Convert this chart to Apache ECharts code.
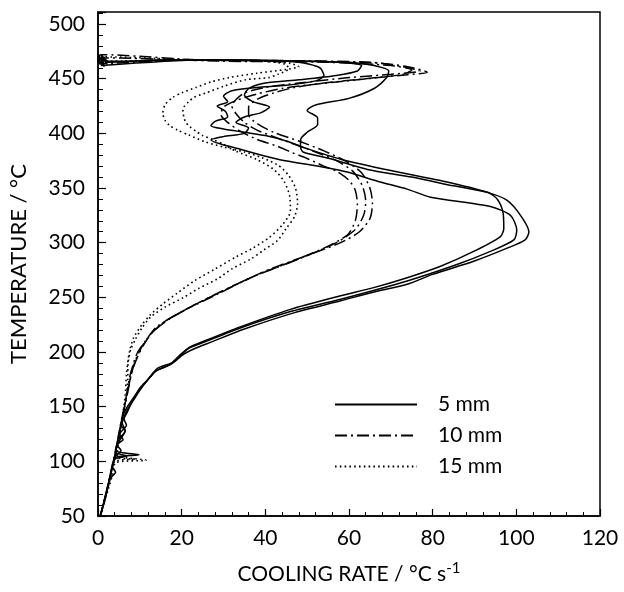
<!DOCTYPE html>
<html>
<head>
<meta charset="utf-8">
<script src="https://cdn.jsdelivr.net/npm/echarts@6/dist/echarts.min.js"></script>
<style>
html,body{margin:0;padding:0;background:#fff;}
#chart{width:624px;height:592px;}
</style>
</head>
<body>
<div id="chart"></div>
<script>
// [cooling rate (°C/s), temperature (°C)]
var legendNames = ['5 mm', '10 mm', '15 mm'];

var solidA = [[0,473],[1.5,461],[0.8,472],[2.2,463],[1,470],[2.5,466],[20,467],[45,466.5],[60,465],[66,462],[69.5,457],[69,451],[66,441],[60,432],[52,426],[50,421],[52.5,414],[52.5,408],[50,401],[48.5,395],[48.4,388],[49,383],[56,376.4],[64.4,367],[75,360],[85,352],[93,346],[97.8,338.7],[101,325],[103,310],[102.1,302.5],[97.8,295],[89.8,283],[80,271],[73.9,262],[65,254],[58,246.8],[47,236],[35,221],[27,209],[23,203],[20.5,198],[17.5,189],[14,183],[12,175],[10,165],[8.5,156],[7,147],[6.2,139],[6.8,133],[5.2,125],[6,120],[4.5,115],[5.5,110],[4,104],[3.5,95],[4.2,90],[2.8,84],[2,72],[1.3,61],[0.7,52]];

var solidB = [[0,471],[0.5,463],[1.2,469],[2,465],[15,467],[35,467],[48,465],[53,460],[54,453],[52,448],[45,444],[38,442],[32,439],[30,434],[31,429],[28.5,425],[30.5,420],[31,415],[28,411],[27,407],[30,404],[35,401],[40,398],[45,393],[50,386],[58,376.4],[70,366],[81.9,356.8],[93,346.3],[95.4,340],[96.8,328],[97,313],[96.2,305.6],[89.8,292],[81.9,278.5],[73.9,268],[65.9,258.9],[58,251.4],[46,239],[34,223],[26,211],[22,204.6],[20.6,200],[18.2,191],[14.2,185],[12.6,177.5],[10.3,168.4],[8.7,159.4],[7.1,150.4],[6,142],[5.5,133],[6.5,128],[5,120],[4.2,110],[9.8,106],[4.5,104],[3.6,98],[3,88],[2.3,76],[1.6,65],[1,56],[0.6,50]];

var solidC = [[0,467],[1.5,470],[0.8,462],[25,467],[45,466],[58,465],[63,462],[62,457],[57,453],[48,449],[40,446],[36,441],[35,435],[37,429],[41,424],[39,419],[35,415],[33,410],[36,405],[35,400],[30,397],[27,394],[34,385.5],[43,376.4],[54,369],[59.6,364.6],[67,356],[73.9,349],[79.5,341.6],[93.8,333],[98.6,325],[100.1,311.6],[99.4,302.5],[93.8,292],[85.8,280],[73.9,265],[58,248.3],[46,237],[34,222],[26,210],[21.5,203],[19.5,197],[17,188],[13.5,182],[11.8,174],[9.8,165],[8.2,155],[7,145],[5.8,135],[6.5,128],[5,118],[4.2,108],[7,105],[4,102],[3.3,92],[2.6,80],[1.8,68],[1,57],[0.5,50]];

var dashA = [[0,469],[1,464],[20,467],[45,466.5],[65,465],[74,461],[78.7,456],[72,453],[62,449],[52,445],[44,441],[38,436],[33,430],[30,424],[29.4,417],[31,410],[34,402],[38,394.5],[43,388],[46,383],[50,377],[54,370],[57.2,365],[60,357],[61.5,348],[62,335],[61.5,320],[59.6,307],[54,295],[44.5,280],[36.5,268],[28.6,253],[20.6,238],[14,223],[11.5,211],[9.5,200],[8.5,190],[7.5,176],[6.8,160],[6,145],[5.2,130],[4.5,115],[3.8,100],[3,87],[2.2,74],[1.5,63],[0.8,53]];

var dashB = [[0,468],[0.7,472],[25,467],[50,466],[68,464],[74,460],[77,457],[70,454],[60,451],[48,446],[40,442],[35,437],[33,431],[32,425],[33,418],[35,410],[38,403],[42,397],[47,390],[52,383],[57,375],[61,365],[63.2,352],[64,338],[63.5,325],[61.5,312],[57,300],[48,285],[39,272],[31,258],[23,243],[16,228],[12.5,216],[10.5,205],[9,193],[8,180],[7.2,165],[6.4,150],[5.6,135],[4.8,120],[4,105],[3.2,92],[2.4,78],[1.6,66],[0.9,55]];

var dashC = [[0,466],[1.5,469],[30,466],[55,465],[70,462],[75,458],[73,454],[64,450],[54,446],[47,442],[42,437],[38,431],[36,424],[36,417],[38,409],[42,401],[48,393],[54,384],[59,375],[63,364],[65,350],[65.6,336],[65,322],[62.5,310],[58,300],[49,287],[40,274],[32,260],[24,245],[17,230],[13,218],[11,207],[9.5,196],[8.2,183],[7.4,170],[6.6,155],[5.8,140],[5,125],[4.3,112],[3.6,100],[2.8,86],[2,72],[1.2,60],[0.6,51]];

var dotA = [[0,469],[1,466],[20,467],[38,466.5],[46,464],[48,461],[45,458.5],[38,455],[31.3,451],[27,447],[23.4,442],[20,437],[17.9,433],[16,426],[15.5,418.5],[16,412],[17,407.6],[19,403],[21.7,398.5],[25.8,392],[30,387.5],[35,383],[39,378],[43,371],[45.5,362],[47.2,350],[47.7,336],[47,324],[45,313],[42.9,302],[39.5,293],[36.5,285],[32,276],[28.6,267],[24,258],[20.5,250],[16,241],[12.6,232],[10.5,222],[9,212],[7.8,202],[7.2,190],[7.1,175],[6.8,162],[6.3,150],[5.5,132],[5,118],[4.5,106],[11.5,101],[4.3,99],[3.5,88],[2.6,76],[1.7,65],[0.9,55],[0.4,50]];

var dotB = [[0,467],[0.5,470],[25,467],[40,466],[45,463],[45.5,459],[43,454],[40.8,451],[35.3,449],[30,443],[25.8,437],[23,433],[21.7,429],[20.5,424],[20.3,420],[20.6,414],[21,410],[22,406],[23.4,402],[25,398],[27.4,394.5],[30,390],[33,383.6],[38,376],[42,367],[44.5,356],[45.8,343],[46,329],[44,316],[41,305],[37,295],[33,287],[28,276],[23,265],[19,254],[15.5,244],[12.5,234],[10.5,225],[8.5,213],[7.5,200],[6.8,180],[6.5,160],[5.8,140],[5,120],[4.2,104],[9,102],[4,100],[2.8,82],[1.8,68],[1,56],[0.4,50]];

var xMin = 0, xMax = 120, xMajor = 20, xMinor = 4;
var yMin = 50, yMax = 511, yMajor = 50, yMinor = 10;

var FONT = 'Lato';
var chart = echarts.init(document.getElementById('chart'), null, {renderer: 'canvas'});

function mk(name, data, type) {
  var ls = {color: '#000', width: 1.5, type: 'solid'};
  if (type === 'dashdot') { ls.type = [12, 4, 2, 4]; }
  if (type === 'dot') { ls.type = [1.6, 3.2]; ls.width = 1.6; }
  return {
    name: name, type: 'line', data: data, xAxisIndex: 0, yAxisIndex: 0,
    showSymbol: false, symbol: 'none', smooth: 0.25, animation: false,
    lineStyle: ls, itemStyle: {color: '#000'}, emphasis: {disabled: true}
  };
}

var lbl = {color: '#000', fontFamily: FONT, fontSize: 21};

var option = {
  backgroundColor: '#fff',
  animation: false,
  grid: {left: 97, right: 24, top: 12, bottom: 71, show: true, borderColor: '#000', borderWidth: 1.5, containLabel: false},
  legend: {
    orient: 'vertical', left: 329, top: 389, itemWidth: 82, itemHeight: 14, itemGap: 10,
    data: legendNames,
    itemStyle: {color: 'rgba(0,0,0,0)', borderColor: 'rgba(0,0,0,0)', borderWidth: 0, opacity: 0},
    textStyle: {color: '#000', fontFamily: FONT, fontSize: 21, padding: [0, 0, 0, 16]},
    selectedMode: false
  },
  xAxis: [{
    type: 'value', min: xMin, max: xMax, interval: xMinor, position: 'bottom',
    axisLine: {show: true, onZero: false, lineStyle: {color: '#000', width: 1.5}},
    axisTick: {show: true, inside: true, length: 4, lineStyle: {color: '#000', width: 1}},
    axisLabel: Object.assign({margin: 12, formatter: function (v) { return v % xMajor === 0 ? String(v) : ''; }}, lbl),
    splitLine: {show: false},
    name: 'COOLING RATE / °C s{sup|-1}', nameLocation: 'middle', nameGap: 45,
    nameTextStyle: {color: '#000', fontFamily: FONT, fontSize: 21, lineHeight: 26,
      rich: {sup: {fontFamily: FONT, fontSize: 15, verticalAlign: 'top', color: '#000', padding: [0, 0, 11, 0]}}}
  }, {
    type: 'value', min: xMin, max: xMax, interval: xMajor, position: 'bottom', gridIndex: 0,
    axisLine: {show: false}, axisLabel: {show: false}, splitLine: {show: false},
    axisTick: {show: true, inside: true, length: 7, lineStyle: {color: '#000', width: 1.2}}
  }],
  yAxis: [{
    type: 'value', min: yMin, max: yMax, interval: yMinor, position: 'left',
    axisLine: {show: true, onZero: false, lineStyle: {color: '#000', width: 1.5}},
    axisTick: {show: true, inside: true, length: 5, lineStyle: {color: '#000', width: 1}},
    axisLabel: Object.assign({margin: 13, formatter: function (v) { return (v % yMajor === 0 && v <= 500) ? String(v) : ''; }}, lbl),
    splitLine: {show: false},
    name: 'TEMPERATURE / °C', nameLocation: 'middle', nameGap: 68, nameRotate: 90,
    nameTextStyle: {color: '#000', fontFamily: FONT, fontSize: 22}
  }, {
    type: 'value', min: yMin, max: yMax, interval: yMajor, position: 'left', gridIndex: 0,
    axisLine: {show: false}, axisLabel: {show: false}, splitLine: {show: false},
    axisTick: {show: true, inside: true, length: 8, lineStyle: {color: '#000', width: 1.2}}
  }],
  series: [
    mk(legendNames[0], solidA, 'solid'),
    mk(legendNames[0], solidB, 'solid'),
    mk(legendNames[0], solidC, 'solid'),
    mk(legendNames[1], dashA, 'dashdot'),
    mk(legendNames[1], dashB, 'dashdot'),
    mk(legendNames[1], dashC, 'dashdot'),
    mk(legendNames[2], dotA, 'dot'),
    mk(legendNames[2], dotB, 'dot')
  ]
};
chart.setOption(option);
</script>
</body>
</html>
